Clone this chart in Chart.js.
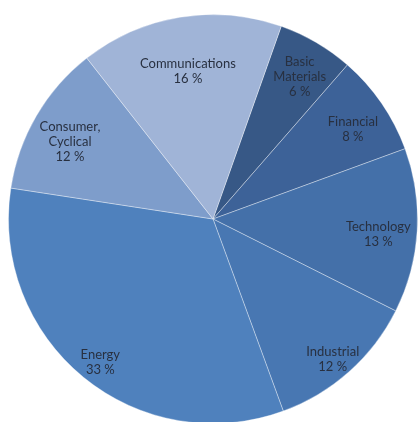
<!DOCTYPE html>
<html>
<head>
<meta charset="utf-8">
<script src="https://cdn.jsdelivr.net/npm/chart.js@4"></script>
<style>
  html, body { margin: 0; padding: 0; background: #fff; overflow: hidden; }
  #wrap { width: 418px; height: 424px; position: relative; }
</style>
</head>
<body>
<div id="wrap"><canvas id="canvasChart"></canvas></div>
<script>
const sectors = ['Basic Materials', 'Financial', 'Technology', 'Industrial', 'Energy', 'Consumer, Cyclical', 'Communications']
const labelLines = [['Basic', 'Materials'], ['Financial'], ['Technology'], ['Industrial'], ['Energy'], ['Consumer,', 'Cyclical'], ['Communications']]
const shares = [6, 8, 13, 12, 33, 12, 16]
const colors = ['#375886', '#3d6298', '#4470a9', '#4877b2', '#4f81bd', '#7e9dcb', '#a0b4d7']
// how far out each label sits, as a share of the radius
const labelDist = [0.84, 0.83, 0.81, 0.88, 0.87, 0.81, 0.76]

const sliceLabels = {
  id: 'sliceLabels',
  afterDatasetsDraw(chart) {
    const ctx = chart.ctx
    const meta = chart.getDatasetMeta(0)
    ctx.save()
    ctx.font = '13px Lato'
    ctx.fillStyle = '#283040'
    ctx.textAlign = 'center'
    ctx.textBaseline = 'middle'
    meta.data.forEach((arc, i) => {
      const p = arc.getProps(['x', 'y', 'startAngle', 'endAngle', 'outerRadius'])
      const mid = (p.startAngle + p.endAngle) / 2
      const r = p.outerRadius * labelDist[i]
      const cx = p.x + Math.cos(mid) * r
      const cy = p.y + Math.sin(mid) * r + 6
      const lines = labelLines[i].concat([shares[i] + ' %'])
      const lh = 15
      const top = cy - ((lines.length - 1) * lh) / 2
      lines.forEach((t, k) => ctx.fillText(t, cx, top + k * lh))
    })
    ctx.restore()
  },
}

new Chart(document.getElementById('canvasChart'), {
  type: 'pie',
  data: {
    labels: sectors,
    datasets: [
      {
        data: shares,
        backgroundColor: colors,
        borderColor: 'rgba(255,255,255,0.35)',
        borderWidth: 1,
      },
    ],
  },
  options: {
    responsive: true,
    maintainAspectRatio: false,
    animation: false,
    rotation: 19.5,
    layout: { padding: { left: 8, right: 0, top: 14, bottom: 0 } },
    plugins: {
      legend: { display: false },
      tooltip: { enabled: false },
    },
  },
  plugins: [sliceLabels],
})
</script>
</body>
</html>
